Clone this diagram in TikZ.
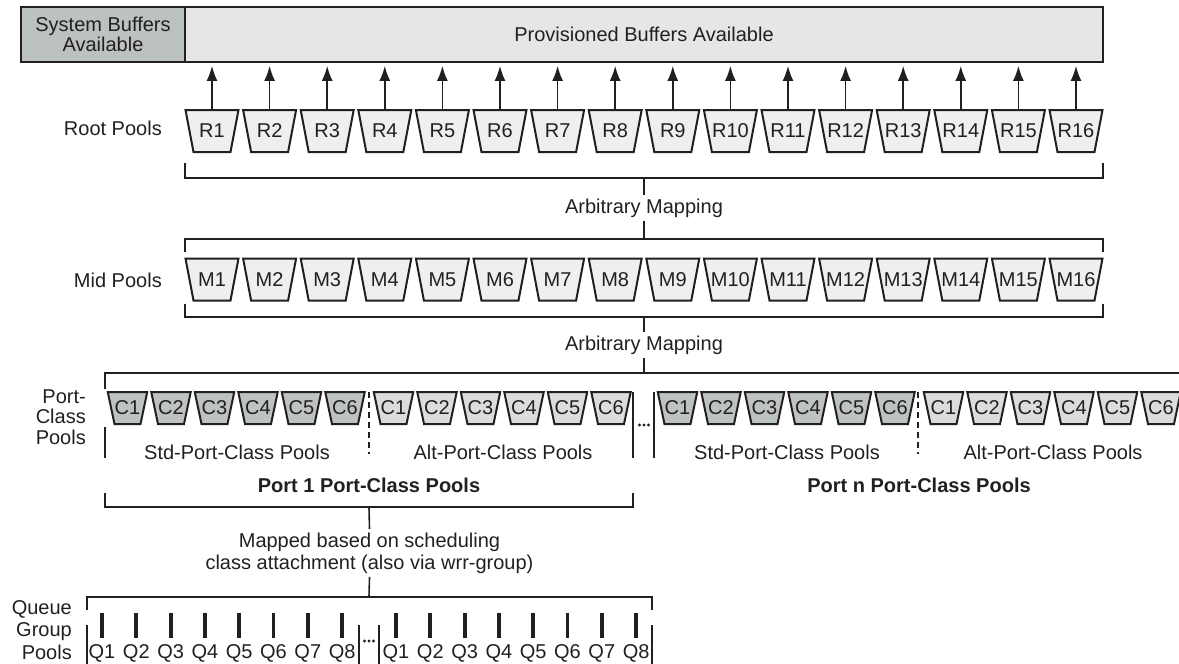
\documentclass[tikz,border=0pt]{standalone}
\usepackage{fontspec}
\setmainfont{Liberation Sans}
\usetikzlibrary{arrows.meta}
\definecolor{lc}{HTML}{231F20}
\definecolor{sysfill}{HTML}{BCC1C1}
\definecolor{provfill}{HTML}{E6E6E6}
\definecolor{rootfill}{HTML}{EFEFEF}
\definecolor{stdfill}{HTML}{BDC3C1}
\definecolor{altfill}{HTML}{DCDCDC}
\newcommand{\fsz}{\fontsize{20}{20.5}\selectfont}
% #1 x, #2 y, #3 top width, #4 bottom width, #5 height, #6 fill
\newcommand{\trapz}[6]{\draw[trapline, fill=#6] ({#1-#3/2},{#2-#5/2}) -- ({#1+#3/2},{#2-#5/2}) -- ({#1+#4/2},{#2+#5/2}) -- ({#1-#4/2},{#2+#5/2}) -- cycle;}
\begin{document}
\begin{tikzpicture}[x=1pt,y=-1pt,
  every node/.style={font=\fsz, text=lc},
  trapline/.style={draw=lc, line width=2pt, line join=miter},
  rootlab/.style={inner sep=0pt, minimum width=53pt, minimum height=42pt},
  clab/.style={inner sep=0pt, minimum width=39.5pt, minimum height=32pt},
  brk/.style={draw=lc, line width=1.6pt},
  arr/.style={draw=lc, line width=1.6pt, -{Latex[length=15pt,width=11pt]}, shorten >=3pt},
  bar/.style={draw=lc, line width=3.8pt},
  lbl/.style={align=right, anchor=east, inner sep=0pt},
  dotsty/.style={fill=lc, draw=none, circle, inner sep=0pt, minimum size=3.2pt},
]
\useasboundingbox (0,0) rectangle (1179,664);

% top boxes
\node[draw=lc, line width=1.8pt, fill=provfill, minimum width=918pt, minimum height=55pt, inner sep=0pt] (prov) at (644,34.5) {Provisioned Buffers Available};
\node[draw=lc, line width=1.8pt, fill=sysfill, minimum width=164pt, minimum height=55pt, inner sep=0pt, align=center] (sys) at (103,34.5) {System Buffers\\Available};

% root pools
\node[lbl] (rootlbl) at (162,128) {Root Pools};
\foreach \i in {1,...,16} {
  \trapz{212+(\i-1)*57.6}{131}{53}{37}{42}{rootfill}
  \node[rootlab] (R\i) at ({212+(\i-1)*57.6},131) {R\i};
  \draw[arr] (R\i.north) -- (R\i.north |- prov.south);
}
\draw[brk] (185,163) -- (185,178) -- (1103,178) -- (1103,163);
\node (am1) at (644,208) {Arbitrary Mapping};
\draw[brk] (644,178) -- (am1.north);
\draw[brk] (am1.south) -- (644,239);

% mid pools
\draw[brk] (185,252) -- (185,239) -- (1103,239) -- (1103,252);
\node[lbl] (midlbl) at (162,280) {Mid Pools};
\foreach \i in {1,...,16} {
  \trapz{212+(\i-1)*57.6}{279.5}{53}{37}{42}{rootfill}
  \node[rootlab] (M\i) at ({212+(\i-1)*57.6},279.5) {M\i};
}
\draw[brk] (185,304) -- (185,317) -- (1103,317) -- (1103,304);
\node (am2) at (644,345) {Arbitrary Mapping};
\draw[brk] (644,317) -- (am2.north);
\draw[brk] (am2.south) -- (644,373);

% port-class pools
\draw[brk] (105,389) -- (105,373) -- (1179,373);
\node[lbl] (pclbl) at (86,417) {Port-\\Class\\Pools};
\foreach \n in {1,...,6} {
  \trapz{127.5+(\n-1)*43.5}{408}{39.5}{26}{32}{stdfill}
  \node[clab] (AS\n) at ({127.5+(\n-1)*43.5},408) {C\n};
  \trapz{393.5+(\n-1)*43.5}{408}{39.5}{26}{32}{altfill}
  \node[clab] (AA\n) at ({393.5+(\n-1)*43.5},408) {C\n};
  \trapz{677.5+(\n-1)*43.5}{408}{39.5}{26}{32}{stdfill}
  \node[clab] (NS\n) at ({677.5+(\n-1)*43.5},408) {C\n};
  \trapz{943.5+(\n-1)*43.5}{408}{39.5}{26}{32}{altfill}
  \node[clab] (NA\n) at ({943.5+(\n-1)*43.5},408) {C\n};
}
\draw[brk, dash pattern=on 6pt off 4pt] (369,392) -- (369,454);
\draw[brk, dash pattern=on 6pt off 4pt] (918,392) -- (918,454);
\draw[brk] (105,427) -- (105,458);
\draw[brk] (633,392) -- (633,458);
\draw[brk] (654,392) -- (654,458);
\node[dotsty] (pd1) at (639.5,425) {};
\node[dotsty] (pd2) at (644,425) {};
\node[dotsty] (pd3) at (648.5,425) {};
\node (stdl1) at (237,452) {Std-Port-Class Pools};
\node (altl1) at (503,452) {Alt-Port-Class Pools};
\node (stdln) at (787,452) {Std-Port-Class Pools};
\node (altln) at (1053,452) {Alt-Port-Class Pools};
\node[font=\fsz\bfseries] (p1) at (369,485) {Port 1 Port-Class Pools};
\node[font=\fsz\bfseries] (pn) at (919,485) {Port n Port-Class Pools};

% port 1 bracket and mapping
\draw[brk] (105,493) -- (105,507) -- (633,507) -- (633,493);
\node[align=center] (map) at (369.5,553) {Mapped based on scheduling\\[1.5pt]class attachment (also via wrr-group)};
\draw[brk] (369,507) -- (map.north);
\draw[brk] (map.south) -- (369,597);

% queue group pools
\draw[brk] (87,610) -- (87,597) -- (652,597) -- (652,610);
\node[lbl] (qlbl) at (72,630) {Queue\\[2pt]Group\\[2pt]Pools};
\foreach \n in {1,...,8} {
  \draw[bar] ({102+(\n-1)*34.3},613) -- ({102+(\n-1)*34.3},638);
  \node[inner sep=0pt] (QA\n) at ({102+(\n-1)*34.3},653) {Q\n};
  \draw[bar] ({396+(\n-1)*34.3},613) -- ({396+(\n-1)*34.3},638);
  \node[inner sep=0pt] (QB\n) at ({396+(\n-1)*34.3},653) {Q\n};
}
\draw[brk] (87,625) -- (87,664);
\draw[brk] (359,625) -- (359,664);
\draw[brk] (379,625) -- (379,664);
\draw[brk] (652,625) -- (652,664);
\node[dotsty] (qd1) at (364.5,641) {};
\node[dotsty] (qd2) at (369,641) {};
\node[dotsty] (qd3) at (373.5,641) {};
\end{tikzpicture}
\end{document}
